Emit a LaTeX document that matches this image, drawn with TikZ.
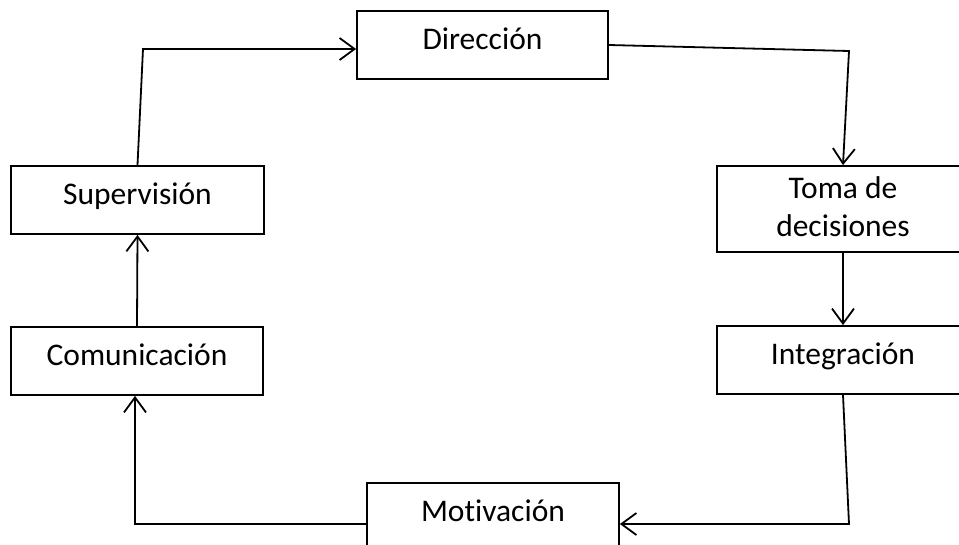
\documentclass[tikz,border=0pt]{standalone}
\usepackage{fontspec}
\setmainfont[Ligatures={NoCommon}]{Carlito}
\usetikzlibrary{arrows.meta}
\begin{document}
\begin{tikzpicture}[x=1pt,y=-1pt,
  stage/.style={draw=black, line width=1.8pt, inner sep=0pt, align=center,
    font=\fontsize{31.5}{38}\selectfont, text depth=12pt},
  tallstage/.style={stage, text depth=4pt},
  flow/.style={draw=black, line width=1.8pt,
    -{Straight Barb[length=15pt,width=22pt,line width=1.8pt]}}]
  \useasboundingbox (0,0) rectangle (959,544);
  \clip (0,0) rectangle (959,544);
  \fill[white] (0,0) rectangle (959,544);

  % process stages
  \node[stage, minimum width=251pt, minimum height=68pt] (dir) at (482.5,45) {Dirección};
  \node[tallstage, minimum width=252pt, minimum height=86pt] (tom) at (843,209) {Toma de\\decisiones};
  \node[stage, minimum width=252pt, minimum height=68pt] (int) at (843,360) {Integración};
  \node[stage, minimum width=252pt, minimum height=68pt] (mot) at (493,517) {Motivación};
  \node[stage, minimum width=252pt, minimum height=68pt] (com) at (137,361) {Comunicación};
  \node[stage, minimum width=253pt, minimum height=68pt] (sup) at (137.5,200) {Supervisión};

  % bend points of the cycle
  \coordinate (c1) at (143,49);
  \coordinate (c2) at (849,51);
  \coordinate (c3) at (849,524);
  \coordinate (c4) at (135,524);

  % connectors
  \draw[flow] (sup.north) -- (c1) -- (c1 -| dir.west);
  \draw[flow] (dir.east) -- (c2) -- (tom.north);
  \draw[flow] (tom.south) -- (int.north);
  \draw[flow] (int.south) -- (c3) -- (c3 -| mot.east);
  \draw[flow] (c3 -| mot.west) -- (c4) -- (c4 |- com.south);
  \draw[flow] (com.north) -- (sup.south);
\end{tikzpicture}
\end{document}
